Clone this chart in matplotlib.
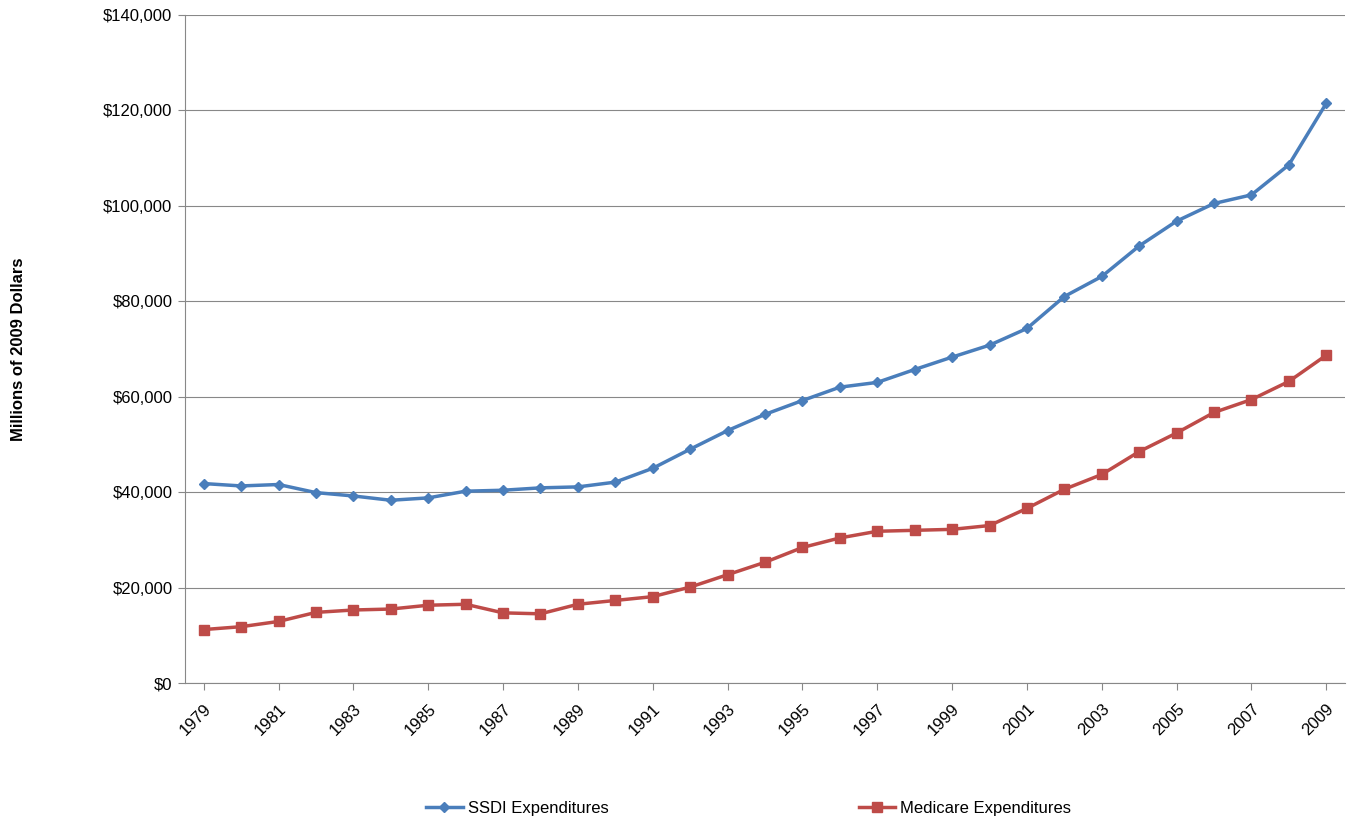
import matplotlib.pyplot as plt

years = list(range(1979, 2010))
ssdi = [41800, 41300, 41600, 39900, 39200, 38300, 38800, 40200, 40400, 40900,
        41100, 42100, 45000, 49000, 52900, 56300, 59200, 62000, 63000, 65700,
        68300, 70800, 74300, 81000, 85200, 91600, 96800, 100500, 102300, 108600, 121500]
medicare = [11200, 11800, 12900, 14800, 15300, 15500, 16300, 16500, 14700, 14500,
            16500, 17300, 18100, 20100, 22700, 25300, 28400, 30400, 31800, 32000,
            32200, 33000, 36600, 40600, 43700, 48500, 52400, 56700, 59400, 63200, 68700]

plt.rcParams['font.family'] = ['Liberation Sans', 'DejaVu Sans']
fig = plt.figure(figsize=(13.49, 8.21), dpi=100)
ax = fig.add_axes([185/1349, 1-683/821, 1160/1349, 668/821])

ax.plot(years, ssdi, color='#4a7ebb', lw=2.5, marker='D', ms=5, label='SSDI Expenditures')
ax.plot(years, medicare, color='#be4b48', lw=2.5, marker='s', ms=7, label='Medicare Expenditures')

ax.set_xlim(1978.5, 2009.5)
ax.set_ylim(0, 140000)
ax.set_yticks(range(0, 140001, 20000))
ax.set_yticklabels(['${:,}'.format(v) for v in range(0, 140001, 20000)], fontsize=12)
ax.set_xticks(years[::2])
ax.set_xticklabels([str(y) for y in years[::2]], rotation=45, ha='right', rotation_mode='anchor', fontsize=12)
ax.grid(axis='y', color='#888888', lw=0.8)
ax.set_axisbelow(True)
for s in ['top', 'right']:
    ax.spines[s].set_visible(False)
ax.spines['left'].set_color('#888888')
ax.spines['bottom'].set_color('#888888')
ax.tick_params(axis='y', length=5, color='#888888', pad=4)
ax.tick_params(axis='x', length=5, color='#888888', pad=8)
ax.set_ylabel('Millions of 2009 Dollars', fontsize=12, fontweight='bold')
ax.yaxis.set_label_coords(-0.137, 0.5)

fig.legend(loc='lower center', ncol=2, frameon=False, fontsize=12,
           bbox_to_anchor=(0.555, -0.012), columnspacing=15, handlelength=2.2,
           handletextpad=0.3)
fig.savefig('out.png')
